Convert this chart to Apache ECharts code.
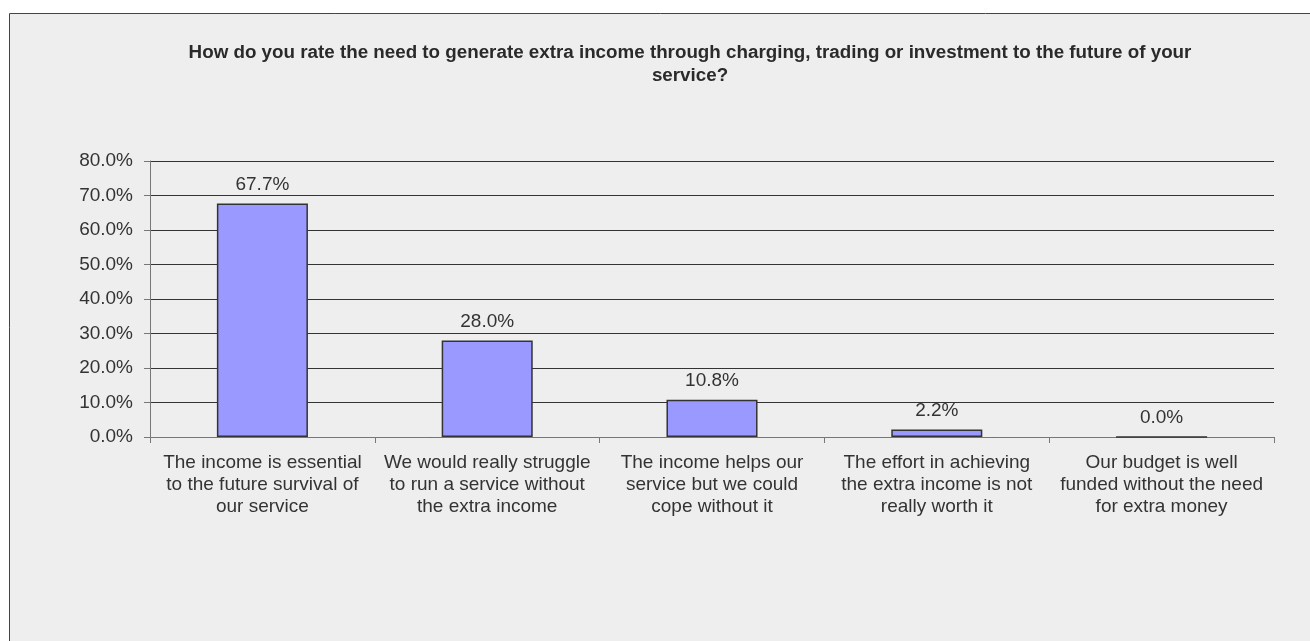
<!DOCTYPE html>
<html>
<head>
<meta charset="utf-8">
<script src="https://cdn.jsdelivr.net/npm/echarts@6/dist/echarts.min.js"></script>
<style>
  html, body { margin: 0; padding: 0; background: #ffffff; }
  #chart { width: 1310px; height: 641px; }
</style>
</head>
<body>
<div id="chart"></div>
<script>
// Survey answers and their share of respondents (%)
const categories = [
  'The income is essential\nto the future survival of\nour service',
  'We would really struggle\nto run a service without\nthe extra income',
  'The income helps our\nservice but we could\ncope without it',
  'The effort in achieving\nthe extra income is not\nreally worth it',
  'Our budget is well\nfunded without the need\nfor extra money'
];
const shares = [67.7, 28.0, 10.8, 2.2, 0.0];
const yTicks = { min: 0, max: 80, interval: 10 };
const titleText = 'How do you rate the need to generate extra income through charging, trading or investment to the future of your\nservice?';

const chart = echarts.init(document.getElementById('chart'), null, { renderer: 'canvas' });
const fontFamily = 'Liberation Sans, Arial, sans-serif';

chart.setOption({
  backgroundColor: '#ffffff',
  animation: false,
  graphic: [{
    type: 'rect',
    z: -10,
    silent: true,
    shape: { x: 9.5, y: 13.5, width: 1400, height: 700 },
    style: { fill: '#eeeeee', stroke: '#444444', lineWidth: 1 }
  }],
  title: {
    text: titleText,
    left: 685,
    textAlign: 'center',
    top: 36,
    textStyle: {
      fontFamily: fontFamily,
      fontSize: 18.8,
      fontWeight: 'bold',
      color: '#2a2a2a',
      lineHeight: 23
    }
  },
  grid: { left: 150, right: 36, top: 161, bottom: 204, containLabel: false },
  xAxis: {
    type: 'category',
    data: categories,
    axisLine: { show: true, lineStyle: { color: '#777777', width: 1 } },
    axisTick: { show: true, alignWithLabel: false, length: 6, lineStyle: { color: '#777777' } },
    axisLabel: {
      interval: 0,
      margin: 15,
      fontFamily: fontFamily,
      fontSize: 19,
      lineHeight: 22,
      color: '#333333',
      align: 'center'
    }
  },
  yAxis: {
    type: 'value',
    min: yTicks.min,
    max: yTicks.max,
    interval: yTicks.interval,
    axisLine: { show: true, lineStyle: { color: '#777777', width: 1 } },
    axisTick: { show: true, length: 6, lineStyle: { color: '#777777' } },
    axisLabel: {
      margin: 17,
      fontFamily: fontFamily,
      fontSize: 19,
      color: '#333333',
      formatter: v => v.toFixed(1) + '%'
    },
    splitLine: { show: true, lineStyle: { color: '#333333', width: 1 } }
  },
  series: [{
    type: 'bar',
    data: shares,
    barWidth: '40.5%',
    itemStyle: { color: '#9999ff', borderColor: '#333333', borderWidth: 1.5 },
    label: {
      show: true,
      position: 'top',
      distance: 9,
      fontFamily: fontFamily,
      fontSize: 19,
      color: '#333333',
      formatter: p => p.value.toFixed(1) + '%'
    }
  }]
});
</script>
</body>
</html>
